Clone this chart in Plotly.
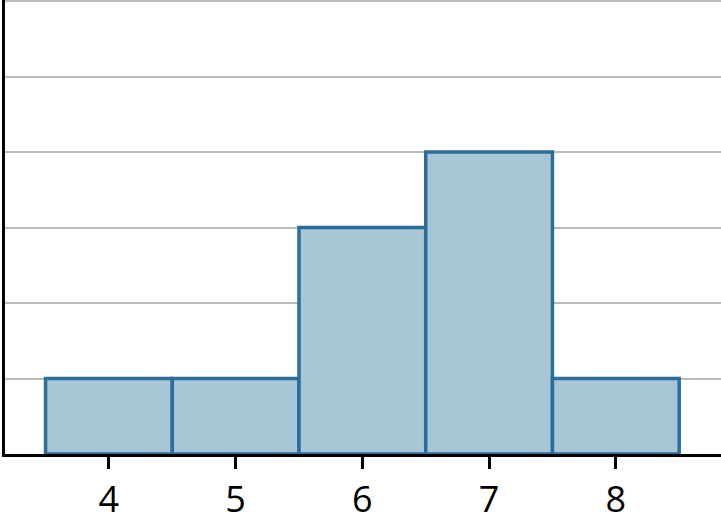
import plotly.graph_objects as go

categories = [4, 5, 6, 7, 8]
counts = [1, 1, 3, 4, 1]
tick_labels = ["4", "5", "6", "7", "8"]

fig = go.Figure(go.Bar(
    x=categories, y=counts, width=1,
    marker=dict(color="#a8c6d6", line=dict(color="#2a6e9b", width=3.5)),
))
fig.update_layout(
    width=721, height=530,
    margin=dict(l=5, r=0, t=0, b=76),
    paper_bgcolor="white", plot_bgcolor="white",
    showlegend=False,
    font=dict(family="Open Sans", color="black"),
)
fig.update_xaxes(
    range=[3.18, 8.83], tickvals=categories, ticktext=tick_labels,
    ticks="outside", ticklen=12, tickwidth=3, tickcolor="black",
    tickfont=dict(size=36), showgrid=False, zeroline=False,
    showline=True, linecolor="black", linewidth=3,
)
fig.update_yaxes(
    range=[0, 6.015], tickvals=[1, 2, 3, 4, 5, 6], showticklabels=False, ticks="",
    showgrid=True, gridcolor="#bbbbbb", gridwidth=2, zeroline=False,
    showline=True, linecolor="black", linewidth=3,
)
fig.write_html("out.html", config={"displayModeBar": False},
               post_script="document.body.style.margin='0';")
